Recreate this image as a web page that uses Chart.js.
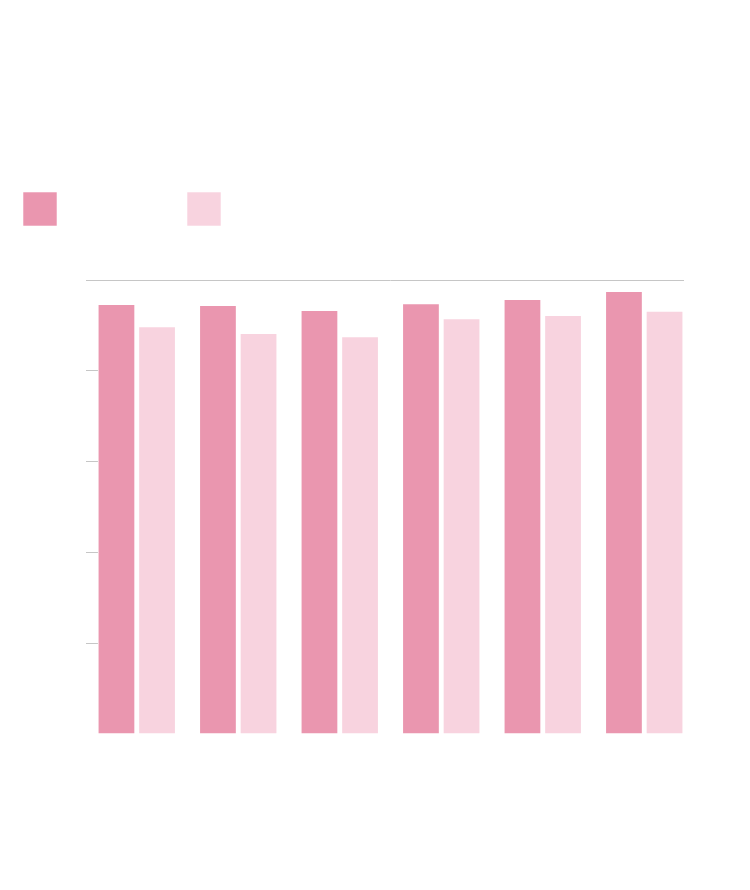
<!DOCTYPE html>
<html>
<head>
<meta charset="utf-8">
<script src="https://cdn.jsdelivr.net/npm/chart.js@4.4.1/dist/chart.umd.min.js"></script>
<style>
  html, body { margin: 0; padding: 0; background: #ffffff; }
  #wrap { width: 750px; height: 890px; }
</style>
</head>
<body>
<div id="wrap"><canvas id="c" width="750" height="890"></canvas></div>
<script>
// ---- data ----
const categories = ['', '', '', '', '', ''];
const seriesNames = ['\u2002', '\u2002'];
const seriesA = [94.7, 94.5, 93.4, 94.9, 95.8, 97.6];
const seriesB = [89.8, 88.3, 87.6, 91.6, 92.3, 93.2];
const yTicks = [0, 20, 40, 60, 80, 100];

const darkPink = '#EA96AF';
const lightPink = '#F8D3DF';
const edge = 'rgba(255,255,255,0.55)';
const gridGray = '#c6c6c6';

function gridColor(c) {
  const ch = c.chart, a = ch.chartArea;
  if (!a || !c.tick) return 'transparent';
  const v = c.tick.value;
  if (v === yTicks[0]) return 'transparent';
  const w = a.right - a.left;
  const g = ch.ctx.createLinearGradient(a.left, 0, a.right, 0);
  const stop = v === yTicks[yTicks.length - 1] ? (684 - a.left) / w : 12 / w;
  g.addColorStop(0, gridGray);
  g.addColorStop(Math.min(stop, 0.999), gridGray);
  g.addColorStop(Math.min(stop + 0.0005, 1), 'rgba(198,198,198,0)');
  g.addColorStop(1, 'rgba(198,198,198,0)');
  return g;
}

new Chart(document.getElementById('c'), {
  type: 'bar',
  data: {
    labels: categories,
    datasets: [
      { label: seriesNames[0], data: seriesA, backgroundColor: darkPink, borderColor: edge, borderWidth: 1,
        categoryPercentage: 0.8, barPercentage: 0.93 },
      { label: seriesNames[1], data: seriesB, backgroundColor: lightPink, borderColor: edge, borderWidth: 1,
        categoryPercentage: 0.8, barPercentage: 0.93 }
    ]
  },
  options: {
    responsive: false,
    animation: false,
    events: [],
    layout: { padding: { left: 15, right: 55, top: 140, bottom: 156 } },
    plugins: {
      tooltip: { enabled: false },
      title: { display: false },
      legend: {
        display: true,
        position: 'top',
        align: 'start',
        labels: {
          boxWidth: 34,
          boxHeight: 34,
          padding: 8,
          color: 'rgba(0,0,0,0)',
          font: { family: 'DejaVu Sans', size: 122 }
        }
      }
    },
    scales: {
      x: {
        display: true,
        grid: { display: false, drawTicks: false },
        border: { display: false },
        ticks: { display: false, padding: 0 }
      },
      y: {
        display: true,
        min: yTicks[0],
        max: yTicks[yTicks.length - 1],
        afterBuildTicks: s => { s.ticks = yTicks.map(v => ({ value: v })); },
        border: { display: false },
        ticks: { display: false },
        grid: {
          display: true,
          drawOnChartArea: true,
          drawTicks: true,
          tickLength: 71,
          tickColor: 'rgba(0,0,0,0)',
          color: gridColor,
          lineWidth: 1
        }
      }
    }
  }
});
</script>
</body>
</html>
